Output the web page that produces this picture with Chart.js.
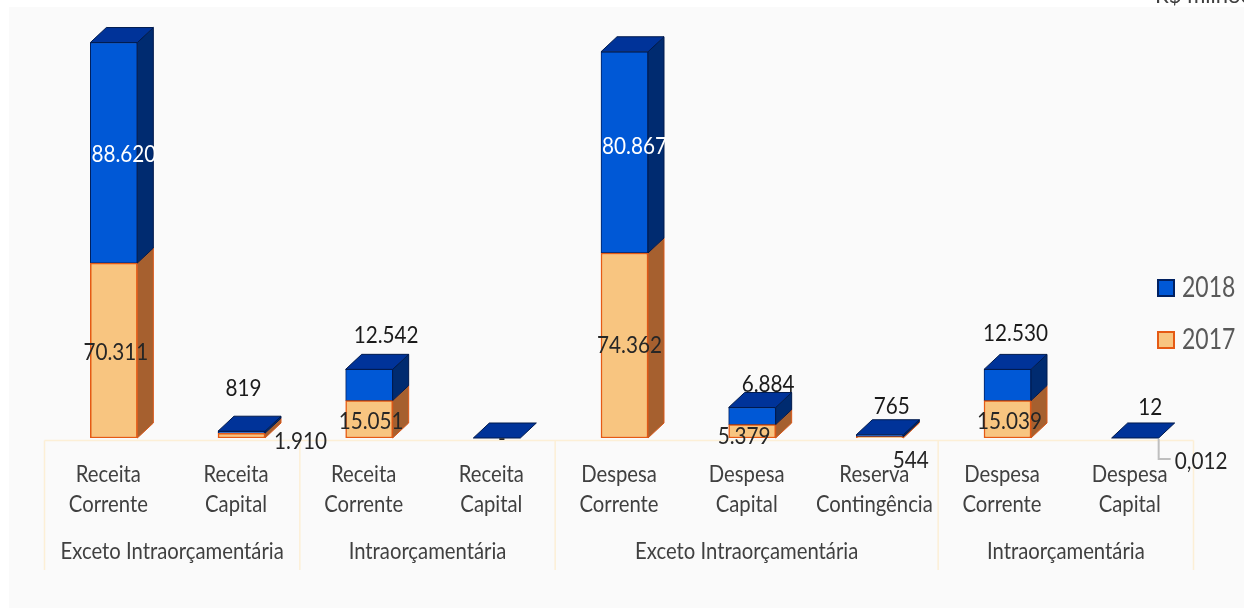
<!DOCTYPE html>
<html>
<head>
<meta charset="utf-8">
<script src="https://cdn.jsdelivr.net/npm/chart.js@4.4.1/dist/chart.umd.min.js"></script>
<style>
  html, body { margin: 0; padding: 0; background: #fff; }
  #wrap { width: 1244px; height: 608px; }
</style>
</head>
<body>
<div id="wrap"><canvas id="chart" width="1244" height="608"></canvas></div>
<script>
// data (R$ milhões)
const categories = [
  ['Receita', 'Corrente'], ['Receita', 'Capital'],
  ['Receita', 'Corrente'], ['Receita', 'Capital'],
  ['Despesa', 'Corrente'], ['Despesa', 'Capital'], ['Reserva', 'Contingência'],
  ['Despesa', 'Corrente'], ['Despesa', 'Capital']
];
const groups = ['Exceto Intraorçamentária', 'Intraorçamentária', 'Exceto Intraorçamentária', 'Intraorçamentária'];
const groupSizes = [2, 2, 3, 2];
const values2017 = [70311, 1910, 15051, 0, 74362, 5379, 544, 15039, 0.012];
const values2018 = [88620, 819, 12542, 0, 80867, 6884, 765, 12530, 12];

// label nudges (px), Excel put some of them in odd spots
const nudge2017 = [[0, 2], [57, 6], [0, 2], [3, 1], [3, 0], [-10, 5], [29, 23], [0, 2], [64, 24]];
const nudge2018 = [[0, 2], [-8, -12], [7, -3], [0, 0], [0, -6], [6, 8], [2, 3], [-2, -5], [5, 1]];
const leaderLines = [8];

const DX = 16, DY = 15;      // 3d depth
const SHIFT = 5.5;           // bars sit a bit right of the category centre
const FONT = 'Lato, "Open Sans", sans-serif';

function fmt(v) {
  if (v === 0) return '-';
  const parts = String(v).split('.');
  const int = parts[0].replace(/\B(?=(\d{3})+(?!\d))/g, '.');
  return parts[1] ? int + ',' + parts[1] : int;
}

function txt(ctx, s, x, y, size, color, sx, align) {
  ctx.save();
  ctx.translate(x, y);
  ctx.scale(sx, 1);
  ctx.font = size + 'px ' + FONT;
  ctx.fillStyle = color;
  ctx.textAlign = align || 'center';
  ctx.textBaseline = 'middle';
  ctx.fillText(s, 0, 0);
  ctx.restore();
}

function poly(ctx, pts, fill, stroke) {
  ctx.beginPath();
  ctx.moveTo(pts[0][0], pts[0][1]);
  for (let k = 1; k < pts.length; k++) ctx.lineTo(pts[k][0], pts[k][1]);
  ctx.closePath();
  ctx.fillStyle = fill;
  ctx.fill();
  if (stroke) { ctx.strokeStyle = stroke; ctx.lineWidth = 1; ctx.stroke(); }
}

const sideColors = [['#A6602F', '#D9581A'], ['#002B70', '#001A4D']];

const backgroundPlugin = {
  id: 'bg',
  beforeDraw(chart) {
    const ctx = chart.ctx;
    ctx.save();
    ctx.fillStyle = '#ffffff';
    ctx.fillRect(0, 0, chart.width, chart.height);
    ctx.fillStyle = '#FAFAFA';
    ctx.fillRect(9, 7, chart.width - 9, chart.height - 7);
    ctx.restore();
  }
};

const axisPlugin = {
  id: 'axis',
  beforeDatasetsDraw(chart) {
    const ctx = chart.ctx, xs = chart.scales.x, area = chart.chartArea;
    const cw = xs.getPixelForValue(1) - xs.getPixelForValue(0);
    const x0 = xs.getPixelForValue(0) - cw / 2 - SHIFT;
    const x1 = xs.getPixelForValue(categories.length - 1) + cw / 2 - SHIFT;
    ctx.save();
    ctx.strokeStyle = '#FCEFD6';
    ctx.lineWidth = 1.5;
    ctx.beginPath();
    ctx.moveTo(x0, area.bottom + 2.5);
    ctx.lineTo(x1, area.bottom + 2.5);
    let idx = 0;
    [0].concat(groupSizes).forEach(n => {
      idx += n;
      const x = xs.getPixelForValue(idx) - cw / 2 - SHIFT;
      ctx.moveTo(x, area.bottom + 2.5);
      ctx.lineTo(x, area.bottom + 132);
    });
    ctx.stroke();
    ctx.restore();
  }
};

const boxPlugin = {
  id: 'box3d',
  afterDatasetsDraw(chart) {
    const ctx = chart.ctx;
    ctx.save();
    chart.data.datasets.forEach((ds, d) => {
      chart.getDatasetMeta(d).data.forEach(bar => {
        const p = bar.getProps(['x', 'y', 'base', 'width'], true);
        const r = p.x + p.width / 2;
        const top = Math.min(p.y, p.base), bot = Math.max(p.y, p.base);
        if (bot - top > 0.2) {
          poly(ctx, [[r, bot], [r + DX, bot - DY], [r + DX, top - DY], [r, top]], sideColors[d][0], sideColors[d][1]);
        }
      });
    });
    // lids on the top series
    const last = chart.data.datasets.length - 1;
    chart.getDatasetMeta(last).data.forEach(bar => {
      const p = bar.getProps(['x', 'y', 'base', 'width'], true);
      const l = p.x - p.width / 2, r = p.x + p.width / 2;
      const top = Math.min(p.y, p.base);
      poly(ctx, [[l, top], [r, top], [r + DX, top - DY], [l + DX, top - DY]], '#003399', '#001A4D');
    });
    ctx.restore();
  }
};

const labelPlugin = {
  id: 'labels',
  afterDraw(chart) {
    const ctx = chart.ctx, xs = chart.scales.x, area = chart.chartArea;

    // category names
    categories.forEach((c, i) => {
      const x = xs.getPixelForValue(i) - SHIFT;
      txt(ctx, c[0], x, area.bottom + 36, 24, '#404040', 0.845);
      txt(ctx, c[1], x, area.bottom + 66, 24, '#404040', 0.845);
    });
    let idx = 0;
    groups.forEach((g, k) => {
      const a = xs.getPixelForValue(idx), b = xs.getPixelForValue(idx + groupSizes[k] - 1);
      txt(ctx, g, (a + b) / 2 - SHIFT, area.bottom + 113, 24, '#404040', 0.845);
      idx += groupSizes[k];
    });

    // value labels
    const m17 = chart.getDatasetMeta(0).data, m18 = chart.getDatasetMeta(1).data;
    m17.forEach((bar, i) => {
      const p = bar.getProps(['x', 'y', 'base'], true);
      const x = p.x + 2 + nudge2017[i][0];
      const y = (p.y + p.base) / 2 + nudge2017[i][1];
      if (leaderLines.includes(i)) {
        const r = p.x + bar.width / 2;
        ctx.save();
        ctx.strokeStyle = '#BFBFBF';
        ctx.lineWidth = 2;
        ctx.beginPath();
        ctx.moveTo(r, p.base + 1);
        ctx.lineTo(r, y - 3);
        ctx.lineTo(r + 12, y - 3);
        ctx.stroke();
        ctx.restore();
      }
      txt(ctx, fmt(values2017[i]), x, y, 23, '#262626', 0.9);
    });
    m18.forEach((bar, i) => {
      const v = values2018[i];
      if (v === 0) return;
      const p = bar.getProps(['x', 'y', 'base'], true);
      const inside = v > 50000;
      const x = p.x + 10 + nudge2018[i][0];
      const y = (inside ? (p.y + p.base) / 2 : p.y - DY - 16) + nudge2018[i][1];
      txt(ctx, fmt(v), x, y, 23, inside ? '#ffffff' : '#1a1a1a', 0.9);
    });

    // legend
    ctx.save();
    ctx.lineWidth = 2;
    ctx.fillStyle = '#0058D6'; ctx.strokeStyle = '#002060';
    ctx.fillRect(1158, 280, 16, 16); ctx.strokeRect(1158, 280, 16, 16);
    ctx.fillStyle = '#F8C580'; ctx.strokeStyle = '#E55A14';
    ctx.fillRect(1158, 332, 16, 16); ctx.strokeRect(1158, 332, 16, 16);
    ctx.restore();
    txt(ctx, '2018', 1182, 288, 28, '#595959', 0.82, 'left');
    txt(ctx, '2017', 1182, 340, 28, '#595959', 0.82, 'left');

    // unit note, cut off at the top edge
    ctx.save();
    ctx.font = '22px ' + FONT;
    ctx.fillStyle = '#404040';
    ctx.textBaseline = 'alphabetic';
    ctx.fillText('R$ milhões', 1155, 3);
    ctx.restore();
  }
};

new Chart(document.getElementById('chart'), {
  type: 'bar',
  data: {
    labels: categories.map(c => c.join(' ')),
    datasets: [
      {
        label: '2017',
        data: values2017,
        backgroundColor: '#F8C580',
        borderColor: '#E55A14',
        borderWidth: 1.5,
        borderSkipped: false,
        barThickness: 47
      },
      {
        label: '2018',
        data: values2018,
        backgroundColor: '#0058D6',
        borderColor: '#002060',
        borderWidth: 1,
        borderSkipped: false,
        barThickness: 47
      }
    ]
  },
  options: {
    responsive: false,
    animation: false,
    layout: { padding: { left: 50, right: 45, top: 15, bottom: 170 } },
    scales: {
      x: { stacked: true, display: false },
      y: { stacked: true, display: false, min: 0, max: 170000 }
    },
    plugins: {
      legend: { display: false },
      tooltip: { enabled: false }
    }
  },
  plugins: [backgroundPlugin, axisPlugin, boxPlugin, labelPlugin]
});
</script>
</body>
</html>
